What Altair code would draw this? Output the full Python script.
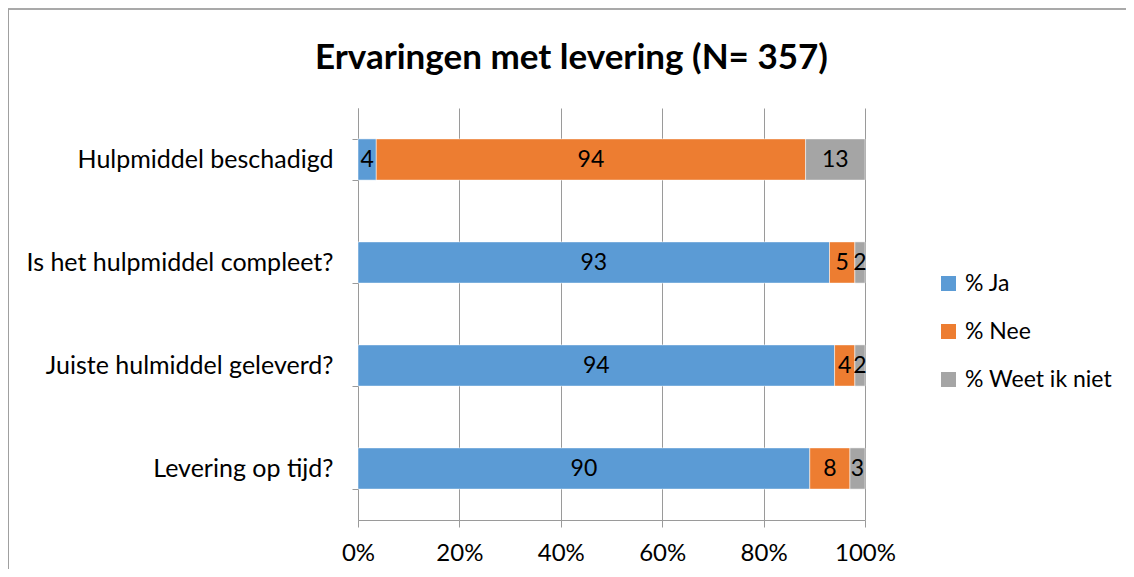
import altair as alt
import pandas as pd

questions = ["Hulpmiddel beschadigd", "Is het hulpmiddel compleet?",
             "Juiste hulmiddel geleverd?", "Levering op tijd?"]
series = ["% Ja", "% Nee", "% Weet ik niet"]
ja = [4, 93, 94, 90]
nee = [94, 5, 4, 8]
weet = [13, 2, 2, 3]
colors = ["#5B9BD5", "#ED7D31", "#A5A5A5"]
x_ticks = [0, 0.2, 0.4, 0.6, 0.8, 1.0]
title = "Ervaringen met levering (N= 357)"

rows = []
for i, q in enumerate(questions):
    for j, (s, vals) in enumerate(zip(series, [ja, nee, weet])):
        rows.append({"question": q, "series": s, "value": vals[i], "order": j})
df = pd.DataFrame(rows)

FONT = "Lato"
GRID = "#9a9a9a"

base = alt.Chart(df).transform_stack(
    stack="value", groupby=["question"], as_=["x0", "x1"],
    offset="normalize", sort=[alt.SortField("order", order="ascending")]
).transform_calculate(mid="(datum.x0 + datum.x1) / 2")

yenc = alt.Y("question:N", sort=questions, title=None,
             scale=alt.Scale(paddingInner=0.6, paddingOuter=0.3),
             axis=alt.Axis(tickBand="extent", ticks=True, tickSize=6, tickColor=GRID,
                           domainColor=GRID, labelFont=FONT, labelFontSize=25,
                           labelColor="#000", labelPadding=19, labelLimit=400, grid=False))

bars = base.mark_bar(stroke="white", strokeWidth=0.5).encode(
    x=alt.X("x0:Q", title=None, scale=alt.Scale(domain=[0, 1], nice=False),
            axis=alt.Axis(values=x_ticks, format=".0%", grid=True, gridColor=GRID,
                          tickColor=GRID, domainColor=GRID, tickSize=7,
                          labelFont=FONT, labelFontSize=24, labelColor="#000",
                          labelPadding=14, labelFlush=False)),
    x2="x1:Q",
    y=yenc,
    color=alt.Color("series:N", sort=series,
                    scale=alt.Scale(domain=series, range=colors),
                    legend=alt.Legend(title=None, orient="none", legendX=579, legendY=164,
                                      symbolType="square", symbolSize=225,
                                      symbolStrokeWidth=0,
                                      labelFont=FONT, labelFontSize=23, labelColor="#000",
                                      rowPadding=24, labelOffset=5)),
    order=alt.Order("order:Q"),
)

labels = base.mark_text(font=FONT, fontSize=23, color="#000", baseline="middle").encode(
    x=alt.X("mid:Q"),
    y=alt.Y("question:N", sort=questions),
    text="value:Q",
)

frame_df = pd.DataFrame({"k": [0]})
frame_top = alt.Chart(frame_df).mark_rule(color="#8c8c8c", strokeWidth=1.5).encode(
    x=alt.value(-351), x2=alt.value(770), y=alt.value(-99))
frame_left = alt.Chart(frame_df).mark_rule(color="#a0a0a0", strokeWidth=2).encode(
    x=alt.value(-350), y=alt.value(-99), y2=alt.value(470))

chart = alt.layer(bars, labels, frame_top, frame_left).properties(
    width=507, height=412,
    title=alt.TitleParams(title, font=FONT, fontSize=35, fontWeight="bold",
                          anchor="middle", dx=-40, offset=0, dy=68, color="#000"),
    autosize=alt.AutoSizeParams(type="none"),
    padding={"left": 350, "top": 100, "right": 261, "bottom": 49},
).configure_view(stroke=None)

chart.save("out.html", embed_options={"renderer": "svg", "actions": False})
